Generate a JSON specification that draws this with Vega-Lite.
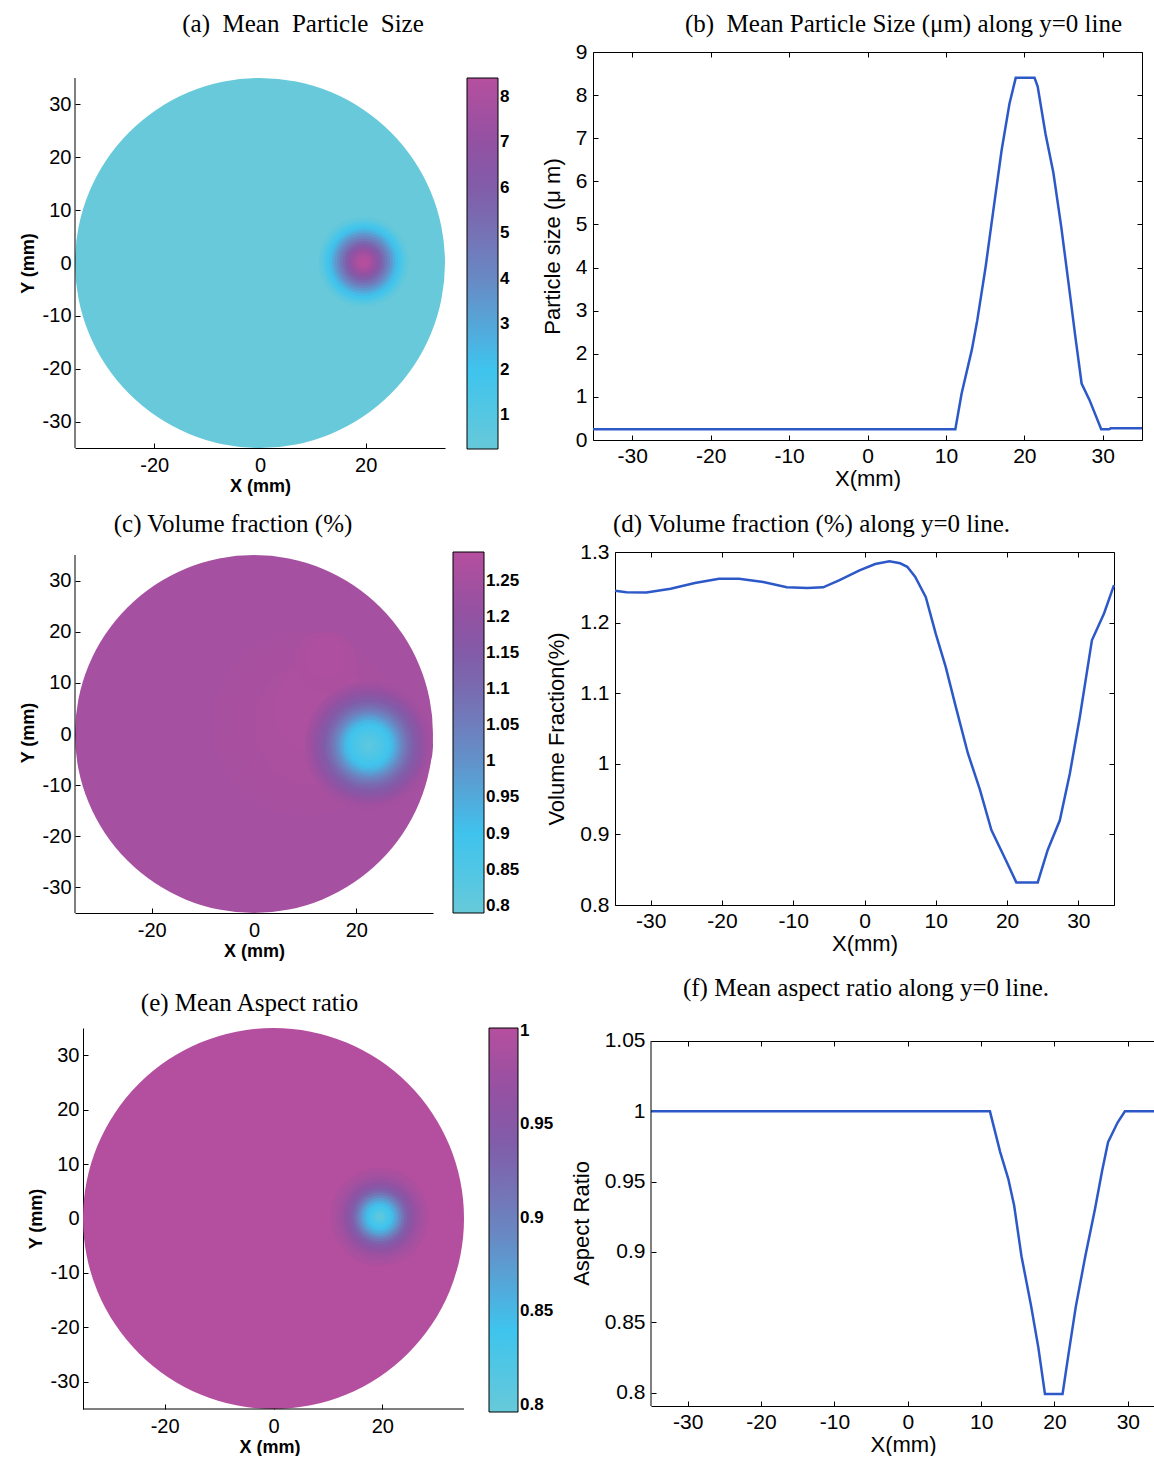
{
  "$schema": "https://vega.github.io/schema/vega-lite/v6.json",
  "background": "white",
  "padding": {"left": 19, "top": 11, "right": 0, "bottom": 0},
  "spacing": 16,
  "resolve": {"scale": {"color": "independent", "size": "independent"}, "legend": {"color": "independent"}},
  "config": {
    "view": {"stroke": null},
    "font": "Liberation Sans",
    "title": {"font": "Liberation Serif", "fontSize": 25, "fontWeight": "normal", "color": "black", "anchor": "middle", "frame": "group"},
    "axis": {"grid": false, "domainColor": "black", "domainWidth": 1, "tickColor": "black", "tickSize": -5, "tickWidth": 1, "labelColor": "black", "titleColor": "black", "labelFont": "Liberation Sans", "titleFont": "Liberation Sans", "labelFlush": false, "labelOverlap": false, "labelExpr": "replace(datum.label, '−', '-')"},
    "legend": {"type": "gradient", "direction": "vertical", "orient": "right", "padding": 0, "gradientStrokeColor": "black", "gradientStrokeWidth": 1, "labelFont": "Liberation Sans", "labelFontWeight": "bold", "labelFontSize": 17, "labelColor": "black", "labelOffset": 4, "labelOverlap": false}
  },
  "vconcat": [
    {
      "spacing": 4,
      "resolve": {"scale": {"color": "independent", "size": "independent"}, "legend": {"color": "independent"}},
      "hconcat": [
        {
          "width": 370, "height": 396,
          "title": {"text": "(a)\u00a0\u00a0Mean\u00a0\u00a0Particle\u00a0\u00a0Size", "offset": 15, "dx": 43},
          "layer": [
            {
              "data": {"values": [
                {"x": 0, "y": 0, "d": 70, "v": 0.25},
                {"x": 19.6, "y": 0.2, "d": 17, "v": 0.5},
                {"x": 19.6, "y": 0.2, "d": 16, "v": 0.9},
                {"x": 19.6, "y": 0.2, "d": 15, "v": 1.4},
                {"x": 19.6, "y": 0.2, "d": 14, "v": 1.85},
                {"x": 19.6, "y": 0.2, "d": 13, "v": 2.3},
                {"x": 19.6, "y": 0.2, "d": 12, "v": 2.9},
                {"x": 19.6, "y": 0.2, "d": 11, "v": 3.5},
                {"x": 19.6, "y": 0.2, "d": 10, "v": 4.1},
                {"x": 19.6, "y": 0.2, "d": 9, "v": 4.7},
                {"x": 19.6, "y": 0.2, "d": 8, "v": 5.3},
                {"x": 19.6, "y": 0.2, "d": 7, "v": 5.9},
                {"x": 19.6, "y": 0.2, "d": 6, "v": 6.5},
                {"x": 19.6, "y": 0.2, "d": 5, "v": 7.1},
                {"x": 19.6, "y": 0.2, "d": 4, "v": 7.6},
                {"x": 19.6, "y": 0.2, "d": 3, "v": 8.0},
                {"x": 19.6, "y": 0.2, "d": 2, "v": 8.3},
                {"x": 19.6, "y": 0.2, "d": 1, "v": 8.4}
              ]},
              "mark": {"type": "circle", "opacity": 1, "strokeWidth": 0},
              "encoding": {
                "x": {"field": "x", "type": "quantitative", "scale": {"domain": [-35, 35], "nice": false, "zero": false},
                      "axis": {"values": [-20, 0, 20], "title": "X (mm)", "titleFontWeight": "bold", "titleFontSize": 18, "labelFontSize": 20, "labelPadding": 12, "titlePadding": 2}},
                "y": {"field": "y", "type": "quantitative", "scale": {"domain": [-35, 39.919], "nice": false, "zero": false},
                      "axis": {"values": [-30, -20, -10, 0, 10, 20, 30], "domain": false, "title": "Y (mm)", "titleY": 211, "titleFontWeight": "bold", "titleFontSize": 18, "labelFontSize": 20, "labelPadding": 9, "titlePadding": 5}},
                "size": {"field": "d", "type": "quantitative", "scale": {"type": "pow", "exponent": 2, "domain": [0, 70], "range": [0, 136900]}, "legend": null},
                "color": {"field": "v", "type": "quantitative",
                          "scale": {"domain": [0.25, 2, 3, 4, 5, 6, 7, 8.42], "range": ["#67C9D9", "#3EC4EE", "#55A6D8", "#6889C4", "#7672B5", "#815CA9", "#9351A2", "#B54F9E"], "interpolate": "rgb"},
                          "legend": {"title": null, "padding": 26, "offset": -4, "gradientLength": 371, "gradientThickness": 31, "values": [1, 2, 3, 4, 5, 6, 7, 8], "format": ".3~g"}}
              }
            },
            {
              "data": {"values": [{"x": -35, "y": -35, "y2": 35}]},
              "mark": {"type": "rule", "color": "black", "strokeWidth": 1},
              "encoding": {"x": {"field": "x", "type": "quantitative"}, "y": {"field": "y", "type": "quantitative"}, "y2": {"field": "y2"}}
            }
          ]
        },
        {
          "width": 549, "height": 388,
          "view": {"stroke": "black", "strokeWidth": 1},
          "title": {"text": "(b)\u00a0\u00a0Mean Particle Size (μm) along y=0 line", "offset": 4, "dx": 36},
          "data": {"values": [
            {"x": -35, "v": 0.25}, {"x": 11.2, "v": 0.25}, {"x": 12.0, "v": 1.08}, {"x": 13.3, "v": 2.09}, {"x": 14.0, "v": 2.78},
            {"x": 15.05, "v": 4.0}, {"x": 16.1, "v": 5.4}, {"x": 17.1, "v": 6.72}, {"x": 18.1, "v": 7.8}, {"x": 18.9, "v": 8.4},
            {"x": 21.3, "v": 8.4}, {"x": 21.7, "v": 8.2}, {"x": 22.7, "v": 7.1}, {"x": 23.7, "v": 6.2}, {"x": 24.7, "v": 4.95},
            {"x": 25.8, "v": 3.4}, {"x": 26.5, "v": 2.4}, {"x": 27.3, "v": 1.31}, {"x": 28.3, "v": 0.93}, {"x": 29.8, "v": 0.25},
            {"x": 30.8, "v": 0.25}, {"x": 31.0, "v": 0.27}, {"x": 35, "v": 0.27}
          ]},
          "layer": [
            {
              "mark": {"type": "line", "color": "#2C58C8", "strokeWidth": 2.5},
              "encoding": {
                "x": {"field": "x", "type": "quantitative", "scale": {"domain": [-35, 35], "nice": false, "zero": false},
                      "axis": {"values": [-30, -20, -10, 0, 10, 20, 30], "title": "X(mm)", "domain": false, "titleFontWeight": "normal", "titleFontSize": 22, "labelFontSize": 21, "labelPadding": 10, "titlePadding": 2}},
                "y": {"field": "v", "type": "quantitative", "scale": {"domain": [0, 9], "nice": false, "zero": false},
                      "axis": {"values": [0, 1, 2, 3, 4, 5, 6, 7, 8, 9], "title": "Particle size (μ m)", "domain": false, "titleFontWeight": "normal", "titleFontSize": 22, "labelFontSize": 21, "labelPadding": 11, "titlePadding": 11}}
              }
            },
            {
              "mark": {"type": "line", "opacity": 0},
              "encoding": {
                "x": {"field": "x", "type": "quantitative", "scale": {"domain": [-35, 35], "nice": false, "zero": false},
                      "axis": {"orient": "top", "values": [-30, -20, -10, 0, 10, 20, 30], "labels": false, "title": null, "domain": false}},
                "y": {"field": "v", "type": "quantitative", "scale": {"domain": [0, 9], "nice": false, "zero": false},
                      "axis": {"orient": "right", "values": [0, 1, 2, 3, 4, 5, 6, 7, 8, 9], "labels": false, "title": null, "domain": false}}
              }
            }
          ],
          "resolve": {"axis": {"x": "independent", "y": "independent"}}
        }
      ]
    },
    {
      "spacing": 25,
      "resolve": {"scale": {"color": "independent", "size": "independent"}, "legend": {"color": "independent"}},
      "hconcat": [
        {
          "width": 358, "height": 361,
          "title": {"text": "(c) Volume fraction (%)", "offset": 15, "dx": -21},
          "layer": [
            {
              "data": {"values": [
                {"x": 0, "y": 0, "d": 70, "v": 1.25},
                {"x": 10, "y": 2, "d": 36, "v": 1.254},
                {"x": 11, "y": 2, "d": 30, "v": 1.258},
                {"x": 12, "y": 2, "d": 24, "v": 1.262},
                {"x": 13, "y": 5, "d": 18, "v": 1.266},
                {"x": 14, "y": 14, "d": 12, "v": 1.27},
                {"x": 14, "y": 15, "d": 8, "v": 1.275},
                {"x": 22.5, "y": -2.2, "d": 25, "v": 1.245},
                {"x": 22.5, "y": -2.2, "d": 24, "v": 1.24},
                {"x": 22.5, "y": -2.2, "d": 23, "v": 1.225},
                {"x": 22.5, "y": -2.2, "d": 22, "v": 1.21},
                {"x": 22.5, "y": -2.2, "d": 21, "v": 1.193},
                {"x": 22.5, "y": -2.2, "d": 20, "v": 1.175},
                {"x": 22.5, "y": -2.2, "d": 19, "v": 1.158},
                {"x": 22.5, "y": -2.2, "d": 18, "v": 1.14},
                {"x": 22.5, "y": -2.2, "d": 17, "v": 1.12},
                {"x": 22.5, "y": -2.2, "d": 16, "v": 1.1},
                {"x": 22.5, "y": -2.2, "d": 15, "v": 1.075},
                {"x": 22.5, "y": -2.2, "d": 14, "v": 1.05},
                {"x": 22.5, "y": -2.2, "d": 13, "v": 1.02},
                {"x": 22.5, "y": -2.2, "d": 12, "v": 0.99},
                {"x": 22.5, "y": -2.2, "d": 11, "v": 0.96},
                {"x": 22.5, "y": -2.2, "d": 10, "v": 0.93},
                {"x": 22.5, "y": -2.2, "d": 9, "v": 0.91},
                {"x": 22.5, "y": -2.2, "d": 8, "v": 0.89},
                {"x": 22.5, "y": -2.2, "d": 7, "v": 0.877},
                {"x": 22.5, "y": -2.2, "d": 6, "v": 0.865},
                {"x": 22.5, "y": -2.2, "d": 5, "v": 0.855},
                {"x": 22.5, "y": -2.2, "d": 4, "v": 0.845},
                {"x": 22.5, "y": -2.2, "d": 3, "v": 0.837},
                {"x": 22.5, "y": -2.2, "d": 2, "v": 0.83},
                {"x": 22.5, "y": -2.2, "d": 1, "v": 0.815}
              ]},
              "mark": {"type": "circle", "opacity": 1, "strokeWidth": 0},
              "encoding": {
                "x": {"field": "x", "type": "quantitative", "scale": {"domain": [-35, 35], "nice": false, "zero": false},
                      "axis": {"values": [-20, 0, 20], "title": "X (mm)", "titleFontWeight": "bold", "titleFontSize": 18, "labelFontSize": 20, "labelPadding": 12, "titlePadding": 2}},
                "y": {"field": "y", "type": "quantitative", "scale": {"domain": [-35, 35.587], "nice": false, "zero": false},
                      "axis": {"values": [-30, -20, -10, 0, 10, 20, 30], "domain": false, "title": "Y (mm)", "titleFontWeight": "bold", "titleFontSize": 18, "labelFontSize": 20, "labelPadding": 9, "titlePadding": 5}},
                "size": {"field": "d", "type": "quantitative", "scale": {"type": "pow", "exponent": 2, "domain": [0, 70], "range": [0, 128164]}, "legend": null},
                "color": {"field": "v", "type": "quantitative",
                          "scale": {"domain": [0.79, 0.897, 0.9585, 1.0195, 1.0805, 1.142, 1.203, 1.29], "range": ["#67C9D9", "#3EC4EE", "#55A6D8", "#6889C4", "#7672B5", "#815CA9", "#9351A2", "#B54F9E"], "interpolate": "rgb"},
                          "legend": {"title": null, "offset": 20, "gradientLength": 361, "gradientThickness": 31, "values": [0.8, 0.85, 0.9, 0.95, 1, 1.05, 1.1, 1.15, 1.2, 1.25], "format": ".3~g"}}
              }
            },
            {
              "data": {"values": [{"x": -35, "y": -35, "y2": 35}]},
              "mark": {"type": "rule", "color": "black", "strokeWidth": 1},
              "encoding": {"x": {"field": "x", "type": "quantitative"}, "y": {"field": "y", "type": "quantitative"}, "y2": {"field": "y2"}}
            }
          ]
        },
        {
          "width": 499, "height": 353,
          "view": {"stroke": "black", "strokeWidth": 1},
          "title": {"text": "(d) Volume fraction (%) along y=0 line.", "offset": 4, "dx": -53},
          "data": {"values": [
            {"x": -35, "v": 1.245}, {"x": -33.4, "v": 1.243}, {"x": -30.6, "v": 1.2425}, {"x": -27.2, "v": 1.248}, {"x": -23.8, "v": 1.256},
            {"x": -20.4, "v": 1.262}, {"x": -17.6, "v": 1.262}, {"x": -14.2, "v": 1.2575}, {"x": -10.9, "v": 1.25}, {"x": -8.0, "v": 1.249},
            {"x": -5.8, "v": 1.25}, {"x": -3.5, "v": 1.26}, {"x": -0.7, "v": 1.274}, {"x": 1.5, "v": 1.283}, {"x": 3.5, "v": 1.287},
            {"x": 5.0, "v": 1.284}, {"x": 6.0, "v": 1.279}, {"x": 7.1, "v": 1.265}, {"x": 8.6, "v": 1.236}, {"x": 10.0, "v": 1.184},
            {"x": 11.4, "v": 1.137}, {"x": 12.8, "v": 1.081}, {"x": 14.5, "v": 1.015}, {"x": 16.2, "v": 0.963}, {"x": 17.8, "v": 0.906},
            {"x": 19.8, "v": 0.864}, {"x": 21.3, "v": 0.832}, {"x": 24.3, "v": 0.832}, {"x": 25.7, "v": 0.878}, {"x": 27.4, "v": 0.92},
            {"x": 28.8, "v": 0.986}, {"x": 30.2, "v": 1.066}, {"x": 31.9, "v": 1.175}, {"x": 33.6, "v": 1.213}, {"x": 35, "v": 1.253}
          ]},
          "layer": [
            {
              "mark": {"type": "line", "color": "#2C58C8", "strokeWidth": 2.5},
              "encoding": {
                "x": {"field": "x", "type": "quantitative", "scale": {"domain": [-35, 35], "nice": false, "zero": false},
                      "axis": {"values": [-30, -20, -10, 0, 10, 20, 30], "title": "X(mm)", "domain": false, "titleFontWeight": "normal", "titleFontSize": 22, "labelFontSize": 21, "labelPadding": 10, "titlePadding": 2}},
                "y": {"field": "v", "type": "quantitative", "scale": {"domain": [0.8, 1.3], "nice": false, "zero": false},
                      "axis": {"values": [0.8, 0.9, 1, 1.1, 1.2, 1.3], "format": ".3~g", "title": "Volume Fraction(%)", "domain": false, "titleFontWeight": "normal", "titleFontSize": 22, "labelFontSize": 21, "labelPadding": 11, "titlePadding": 11}}
              }
            },
            {
              "mark": {"type": "line", "opacity": 0},
              "encoding": {
                "x": {"field": "x", "type": "quantitative", "scale": {"domain": [-35, 35], "nice": false, "zero": false},
                      "axis": {"orient": "top", "values": [-30, -20, -10, 0, 10, 20, 30], "labels": false, "title": null, "domain": false}},
                "y": {"field": "v", "type": "quantitative", "scale": {"domain": [0.8, 1.3], "nice": false, "zero": false},
                      "axis": {"orient": "right", "values": [0.8, 0.9, 1, 1.1, 1.2, 1.3], "labels": false, "title": null, "domain": false}}
              }
            }
          ],
          "resolve": {"axis": {"x": "independent", "y": "independent"}}
        }
      ]
    },
    {
      "spacing": 16,
      "resolve": {"scale": {"color": "independent", "size": "independent"}, "legend": {"color": "independent"}},
      "hconcat": [
        {
          "width": 389, "height": 381,
          "title": {"text": "(e) Mean Aspect ratio", "offset": 12, "dx": -20},
          "layer": [
            {
              "data": {"values": [
                {"x": 0, "y": 0, "d": 70, "v": 1.0},
                {"x": 19.5, "y": 0.3, "d": 18, "v": 0.993},
                {"x": 19.5, "y": 0.3, "d": 17, "v": 0.989},
                {"x": 19.5, "y": 0.3, "d": 16, "v": 0.985},
                {"x": 19.5, "y": 0.3, "d": 15, "v": 0.979},
                {"x": 19.5, "y": 0.3, "d": 14, "v": 0.972},
                {"x": 19.5, "y": 0.3, "d": 13, "v": 0.964},
                {"x": 19.5, "y": 0.3, "d": 12, "v": 0.955},
                {"x": 19.5, "y": 0.3, "d": 11, "v": 0.943},
                {"x": 19.5, "y": 0.3, "d": 10, "v": 0.93},
                {"x": 19.5, "y": 0.3, "d": 9, "v": 0.913},
                {"x": 19.5, "y": 0.3, "d": 8, "v": 0.895},
                {"x": 19.5, "y": 0.3, "d": 7, "v": 0.875},
                {"x": 19.5, "y": 0.3, "d": 6, "v": 0.86},
                {"x": 19.5, "y": 0.3, "d": 5, "v": 0.845},
                {"x": 19.5, "y": 0.3, "d": 4, "v": 0.835},
                {"x": 19.5, "y": 0.3, "d": 3, "v": 0.825},
                {"x": 19.5, "y": 0.3, "d": 2, "v": 0.812},
                {"x": 19.5, "y": 0.3, "d": 1, "v": 0.803}
              ]},
              "mark": {"type": "circle", "opacity": 1, "strokeWidth": 0},
              "encoding": {
                "x": {"field": "x", "type": "quantitative", "scale": {"domain": [-36.47, 35], "nice": false, "zero": false},
                      "axis": {"values": [-20, 0, 20], "domain": false, "title": "X (mm)", "titleFontWeight": "bold", "titleFontSize": 18, "labelFontSize": 20, "labelPadding": 12, "titlePadding": 2}},
                "y": {"field": "y", "type": "quantitative", "scale": {"domain": [-35, 35], "nice": false, "zero": false},
                      "axis": {"values": [-30, -20, -10, 0, 10, 20, 30], "offset": -8, "title": "Y (mm)", "titleFontWeight": "bold", "titleFontSize": 18, "labelFontSize": 20, "labelPadding": 9, "titlePadding": 5}},
                "size": {"field": "d", "type": "quantitative", "scale": {"type": "pow", "exponent": 2, "domain": [0, 70], "range": [0, 145161]}, "legend": null},
                "color": {"field": "v", "type": "quantitative",
                          "scale": {"domain": [0.796, 0.84, 0.8653, 0.8904, 0.9155, 0.9407, 0.9658, 1.0016], "range": ["#67C9D9", "#3EC4EE", "#55A6D8", "#6889C4", "#7672B5", "#815CA9", "#9351A2", "#B54F9E"], "interpolate": "rgb"},
                          "legend": {"title": null, "offset": 25, "gradientLength": 384, "gradientThickness": 29, "values": [0.8, 0.85, 0.9, 0.95, 1], "format": ".3~g"}}
              }
            },
            {
              "data": {"values": [{"x": -35, "x2": 35, "y": -35}]},
              "mark": {"type": "rule", "color": "black", "strokeWidth": 1},
              "encoding": {"x": {"field": "x", "type": "quantitative"}, "x2": {"field": "x2"}, "y": {"field": "y", "type": "quantitative"}}
            }
          ]
        },
        {
          "width": 504, "height": 378,
          "title": {"text": "(f) Mean aspect ratio along y=0 line.", "offset": 27, "dx": -37},
          "layer": [
            {
              "data": {"values": [
                {"x": -35, "v": 1.0}, {"x": 11.2, "v": 1.0}, {"x": 12.6, "v": 0.971}, {"x": 13.7, "v": 0.952}, {"x": 14.5, "v": 0.933},
                {"x": 15.5, "v": 0.897}, {"x": 16.8, "v": 0.862}, {"x": 17.8, "v": 0.832}, {"x": 18.7, "v": 0.799}, {"x": 21.1, "v": 0.799},
                {"x": 21.9, "v": 0.827}, {"x": 22.9, "v": 0.861}, {"x": 24.2, "v": 0.897}, {"x": 25.5, "v": 0.93}, {"x": 26.5, "v": 0.958},
                {"x": 27.3, "v": 0.978}, {"x": 28.6, "v": 0.992}, {"x": 29.6, "v": 1.0}, {"x": 35, "v": 1.0}
              ]},
              "mark": {"type": "line", "color": "#2C58C8", "strokeWidth": 2.5, "clip": true},
              "encoding": {
                "x": {"field": "x", "type": "quantitative", "scale": {"domain": [-35, 33.7], "nice": false, "zero": false},
                      "axis": {"values": [-30, -20, -10, 0, 10, 20, 30], "title": "X(mm)", "titleFontWeight": "normal", "titleFontSize": 22, "labelFontSize": 21, "labelPadding": 10, "titlePadding": 2}},
                "y": {"field": "v", "type": "quantitative", "scale": {"domain": [0.7905, 1.05924], "nice": false, "zero": false},
                      "axis": {"values": [0.8, 0.85, 0.9, 0.95, 1, 1.05], "format": ".3~g", "domain": false, "title": "Aspect Ratio", "titleY": 195, "titleFontWeight": "normal", "titleFontSize": 22, "labelFontSize": 21, "labelPadding": 11, "titlePadding": 11}}
              }
            },
            {
              "data": {"values": [{"x": -35, "v": 0.7905, "v2": 1.05}]},
              "mark": {"type": "rule", "color": "black", "strokeWidth": 1},
              "encoding": {
                "x": {"field": "x", "type": "quantitative", "axis": {"orient": "top", "offset": -13, "values": [-30, -20, -10, 0, 10, 20, 30], "labels": false, "title": null}},
                "y": {"field": "v", "type": "quantitative", "axis": null},
                "y2": {"field": "v2"}
              }
            }
          ],
          "resolve": {"axis": {"x": "independent", "y": "independent"}}
        }
      ]
    }
  ]
}
